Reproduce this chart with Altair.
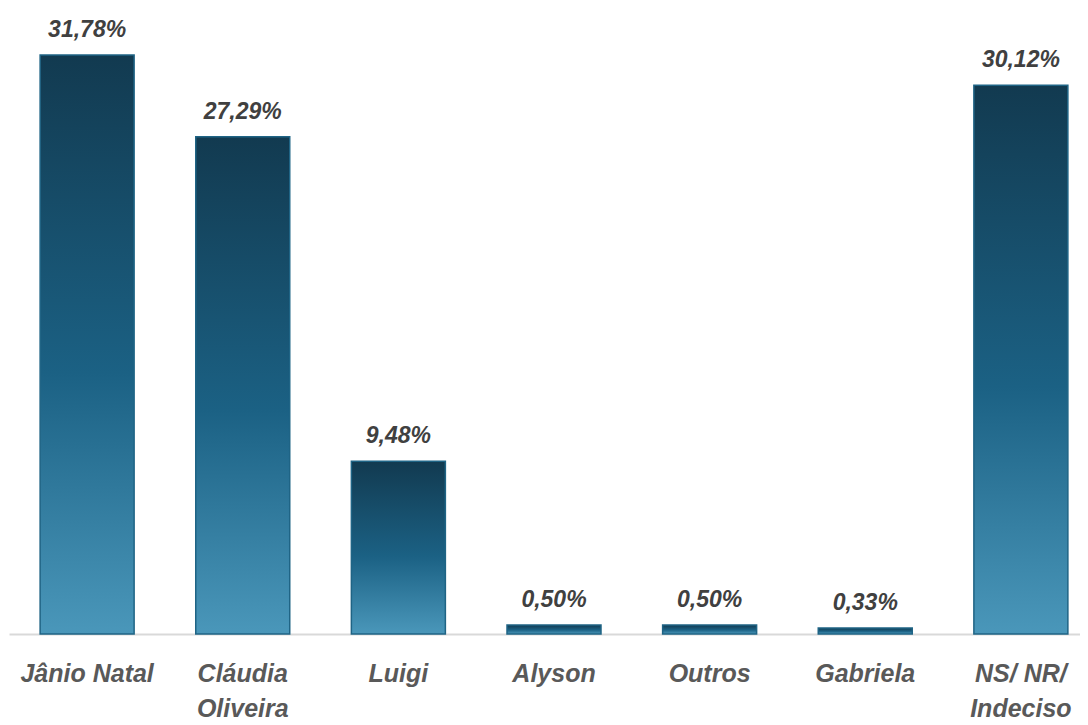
import altair as alt
import pandas as pd

categories = ["Jânio Natal", "Cláudia\nOliveira", "Luigi", "Alyson", "Outros", "Gabriela", "NS/ NR/\nIndeciso"]
values = [31.78, 27.29, 9.48, 0.50, 0.50, 0.33, 30.12]
labels = ["31,78%", "27,29%", "9,48%", "0,50%", "0,50%", "0,33%", "30,12%"]

df = pd.DataFrame({"cat": categories, "val": values, "lab": labels})

grad = alt.Gradient(
    gradient="linear",
    stops=[alt.GradientStop(color="#123a50", offset=0),
           alt.GradientStop(color="#1b6184", offset=0.55),
           alt.GradientStop(color="#4a97ba", offset=1)],
    x1=0, x2=0, y1=0, y2=1,
)

x = alt.X("cat:N", sort=categories, title=None,
          scale=alt.Scale(range=[0, 1090], paddingInner=0.396, paddingOuter=0.2),
          axis=alt.Axis(labelAngle=0, labelExpr="split(datum.label, '\\n')",
                        labelFont="Liberation Sans", labelFontSize=25, labelFontWeight="bold",
                        labelFontStyle="italic", labelColor="#595959", labelPadding=27,
                        labelLineHeight=35, ticks=False, domainColor="#d9d9d9", domainWidth=2,
                        grid=False))
y = alt.Y("val:Q", scale=alt.Scale(domain=[0, 34.3], nice=False), axis=None)

bars = alt.Chart(df).mark_bar(fill=grad, stroke="#1f6485", strokeWidth=1.5).encode(x=x, y=y)
text = alt.Chart(df).mark_text(dy=-18, font="Liberation Sans", fontSize=23, fontWeight="bold",
                               fontStyle="italic", color="#404040", baseline="alphabetic").encode(
    x=alt.X("cat:N", sort=categories), y="val:Q", text="lab:N")

chart = (bars + text).properties(
    width=1071, height=625,
    autosize=alt.AutoSizeParams(type="none"),
    padding={"left": 1, "top": 1, "right": 0, "bottom": 91},
).configure_view(stroke=None)

chart.save("out.html", embed_options={"renderer": "svg", "actions": False})
